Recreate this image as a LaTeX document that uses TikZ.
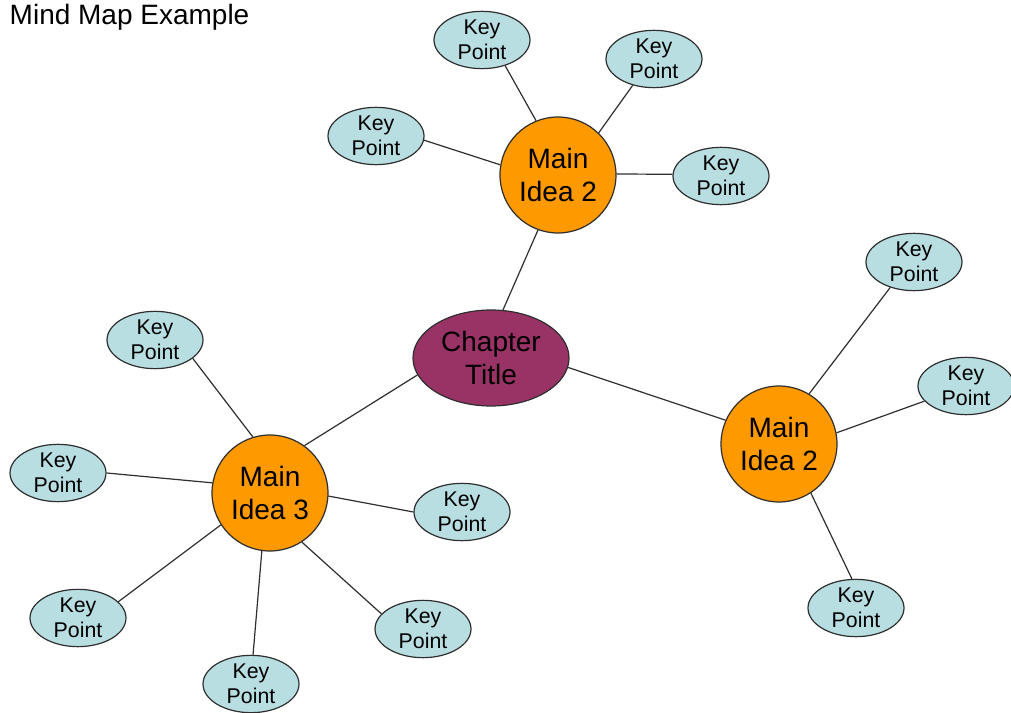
\documentclass[tikz,border=0pt]{standalone}
\usepackage{fontspec}
\setmainfont{Liberation Sans}
\usetikzlibrary{shapes.geometric}
\tikzset{mmpx/.style={x=0.75pt,y=-0.75pt}}
\definecolor{mmline}{HTML}{2E2E2E}
\definecolor{mmorange}{HTML}{FF9900}
\definecolor{mmplum}{HTML}{993366}
\definecolor{mmcyan}{HTML}{B9DEE1}

\begin{document}
\begin{tikzpicture}[mmpx,
  chapter/.style={ellipse,draw=mmline,line width=0.9pt,fill=mmplum,minimum width=117pt,minimum height=72pt,
    inner sep=0pt,align=center,font=\fontsize{21}{25}\selectfont},
  mainidea/.style={circle,draw=mmline,line width=0.9pt,fill=mmorange,minimum size=87pt,
    inner sep=0pt,align=center,font=\fontsize{21}{25}\selectfont},
  keypt/.style={ellipse,draw=mmline,line width=0.9pt,fill=mmcyan,minimum width=72pt,minimum height=43pt,
    inner sep=0pt,align=center,font=\fontsize{16}{18.75}\selectfont},
  link/.style={draw=mmline,line width=0.9pt}]
  \useasboundingbox (0,0) rectangle (1011,713);
  \node[anchor=base west,font=\fontsize{21}{25}\selectfont] (heading) at (5,25) {Mind Map Example};
  \node[chapter] (ch) at (491,358) {Chapter\\Title};
  \node[mainidea] (m2a) at (558,175) {Main\\Idea 2};
  \node[mainidea] (m2b) at (779,444) {Main\\Idea 2};
  \node[mainidea] (m3) at (270,493) {Main\\Idea 3};
  \draw[link] (ch.76) -- (m2a.250);
  \draw[link] (ch.353) -- (m2b.156);
  \draw[link] (ch.193) -- (m3.54);
  % key points: name / x / y / parent / angle on key point / angle on parent
  \foreach \n/\x/\y/\p/\a/\b in {k1/482/40/m2a/-48/112,k2/654/59/m2a/231/46,k3/376/136/m2a/-5/170,k4/721/176/m2a/178/1,
      k5/914/262/m2b/227/59,k6/966/386/m2b/200/11,k7/856/608/m2b/98/-57,
      k8/155/340/m3/-26/107,k9/58/473/m3/0/170,k10/462/512/m3/180/-3,k11/78/618/m3/22/213,
      k12/423/629/m3/160/-57,k13/251/684/m3/86/262} {
    \node[keypt] (\n) at (\x,\y) {Key\\Point};
    \draw[link] (\n.\a) -- (\p.\b);
  }
\end{tikzpicture}
\end{document}
